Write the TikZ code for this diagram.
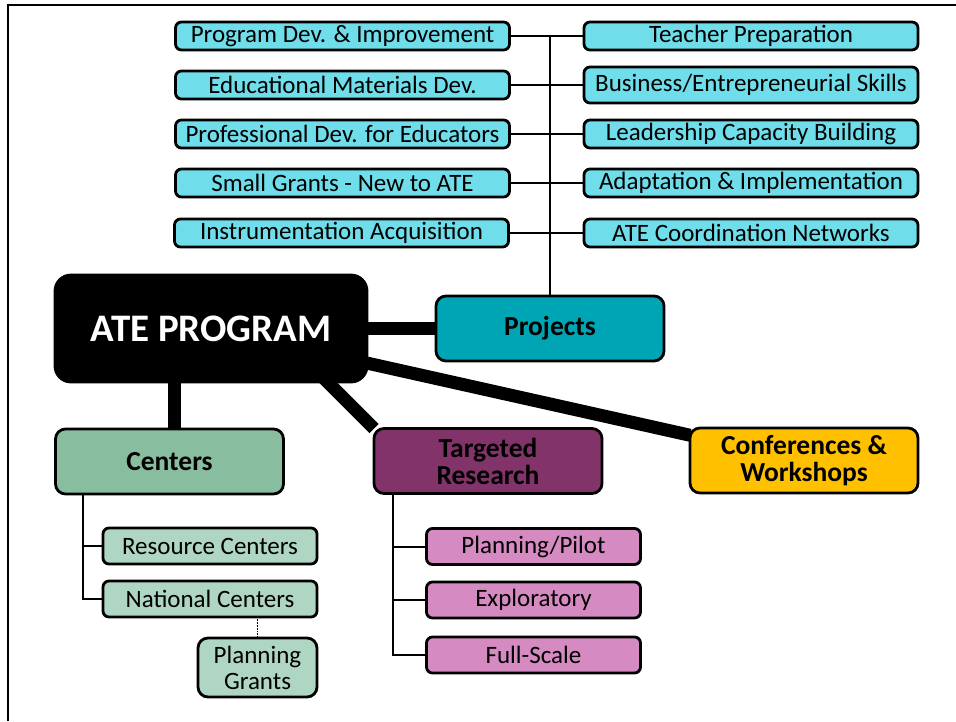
\documentclass[tikz,border=0pt]{standalone}
\usepackage{fontspec}
\setmainfont{Carlito}
\usetikzlibrary{calc,backgrounds}

\definecolor{cyanbox}{HTML}{6FDDEA}
\definecolor{tealbox}{HTML}{00A5B5}
\definecolor{greenbox}{HTML}{88BDA0}
\definecolor{lightgreen}{HTML}{AFD6C3}
\definecolor{purplebox}{HTML}{823369}
\definecolor{pinkbox}{HTML}{D58AC2}
\definecolor{yellowbox}{HTML}{FFC000}

\begin{document}
\begin{tikzpicture}[x=1pt,y=-1pt,inner sep=0pt,outer sep=0pt,
    box/.style={draw=black,line width=2.8pt,rounded corners=6pt,align=center,font=\fontsize{25}{26}\selectfont},
    item/.style={box,fill=cyanbox,minimum width=334pt,minimum height=28pt},
    head/.style={box,rounded corners=10pt,minimum width=228pt,minimum height=65pt,font=\fontsize{27.5}{27}\selectfont\bfseries},
    sub/.style={box,minimum width=214pt,minimum height=36pt},
    trunk/.style={line width=13pt},
    twig/.style={line width=2pt}]
    \useasboundingbox (0,0) rectangle (956,721);
    % 
    \node[item] (pl1) at (342.5,36) {Program Dev. \& Improvement};
    \node[item] (pl2) at (342.5,85) {Educational Materials Dev.};
    \node[item] (pl3) at (342.5,134) {Professional Dev. for Educators};
    \node[item] (pl4) at (342.5,183) {Small Grants - New to ATE};
    \node[item] (pl5) at (341.5,233) {Instrumentation Acquisition};
    \node[item] (pr1) at (751,36) {Teacher Preparation};
    \node[item,minimum height=36pt] (pr2) at (751,85) {Business/Entrepreneurial Skills};
    \node[item] (pr3) at (751,134) {Leadership Capacity Building};
    \node[item] (pr4) at (751,183) {Adaptation \& Implementation};
    \node[item] (pr5) at (751,233) {ATE Coordination Networks};
    % 
    \node[head,fill=tealbox] (proj) at (550,328.5) {Projects};
    \node[box,fill=black,text=white,rounded corners=16pt,minimum width=312pt,minimum height=107pt,
        font=\fontsize{39}{40}\selectfont\bfseries] (ate) at (211,328.5) {ATE PROGRAM};
    \node[head,fill=greenbox] (cent) at (169.5,461.5) {Centers};
    \node[head,fill=purplebox] (targ) at (488,461) {Targeted\\Research};
    \node[head,fill=yellowbox] (conf) at (804,460.5) {Conferences \&\\Workshops};
    % 
    \node[sub,fill=lightgreen] (res) at (210,546) {Resource Centers};
    \node[sub,fill=lightgreen] (nat) at (210,599) {National Centers};
    \node[sub,fill=lightgreen,minimum width=119pt,minimum height=59pt,rounded corners=10pt] (pg) at (257.5,667.5) {Planning\\Grants};
    \node[sub,fill=pinkbox] (pilot) at (533.5,546.5) {Planning/Pilot};
    \node[sub,fill=pinkbox] (expl) at (533.5,600) {Exploratory};
    \node[sub,fill=pinkbox] (full) at (533.5,655) {Full-Scale};
    % 
    \begin{scope}[on background layer]
        \draw[line width=2.5pt] (8,721) -- (8,5) -- (956,5);
        \draw[trunk] (ate) -- (proj);
        \draw[trunk] (ate) -- (conf);
        \draw[trunk] (targ.north west) -- ++(-70,-70);
        \draw[trunk] ([xshift=5pt]cent.north) -- ([xshift=5pt]cent.north |- ate.center);
        \draw[twig] (proj.north) -- (proj.north |- pl1.east);
        \foreach \i in {1,...,5} \draw[twig] (pl\i.east) -- (pr\i.west);
        \draw[twig] ([xshift=27pt]cent.south west) |- (nat.west);
        \draw[twig] ([xshift=27pt]cent.south west |- res.west) -- (res.west);
        \draw[twig] ([xshift=19pt]targ.south west) |- (full.west);
        \foreach \n in {pilot,expl} \draw[twig] ([xshift=19pt]targ.south west |- \n.west) -- (\n.west);
        \draw[densely dotted,line width=1.8pt] (pg.north) -- (pg.north |- nat.south);
    \end{scope}
\end{tikzpicture}
\end{document}
